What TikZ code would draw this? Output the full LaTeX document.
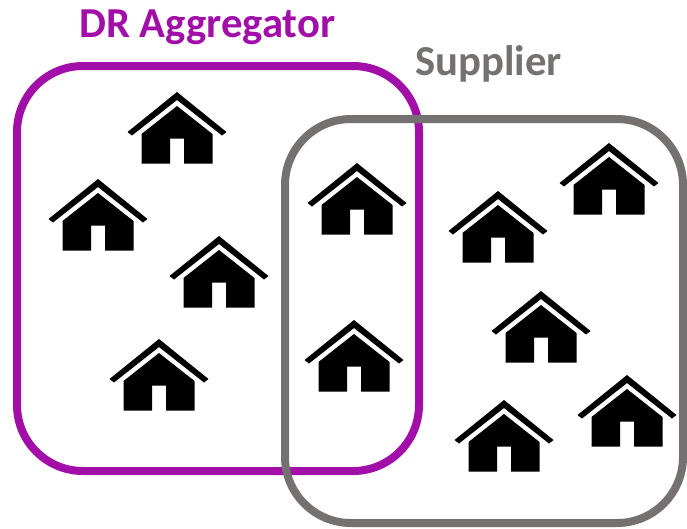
\documentclass[tikz,border=0pt]{standalone}
\usepackage{fontspec}
\setmainfont{Carlito}
\definecolor{drpurple}{HTML}{A20FA8}
\definecolor{supgray}{HTML}{767171}
\tikzset{
  x=1pt,y=-1pt,
  group/.style={line width=8pt,rounded corners=66pt},
  title/.style={font=\bfseries\fontsize{42.7}{46}\selectfont,inner sep=0pt,anchor=base west},
  house/.pic={
    \fill[black] (0,0)--(49.5,40)--(45,43.5)--(0,8)--(-45,43.5)--(-49.5,40)--cycle;
    \fill[black] (0,14)--(35.5,42)--(35.5,71.5)--(7,71.5)--(7,46.5)--(-7,46.5)--(-7,71.5)--(-35.5,71.5)--(-35.5,42)--cycle;
  }
}
\begin{document}
\begin{tikzpicture}
\useasboundingbox (0,0) rectangle (687,528);
\draw[group,drpurple] (17,66) rectangle (419,471);
\draw[group,supgray] (285,119) rectangle (683,523);
\node[title,text=drpurple] (dr) at (79,37) {DR Aggregator};
\node[title,text=supgray] (sup) at (415,75) {Supplier};
\foreach \x/\y in {177/92,98/179,219/236,159/339,357/163,354/320,498/191,609/143,541/291,627/375,504/400}
  \pic at (\x,\y) {house};
\end{tikzpicture}
\end{document}
